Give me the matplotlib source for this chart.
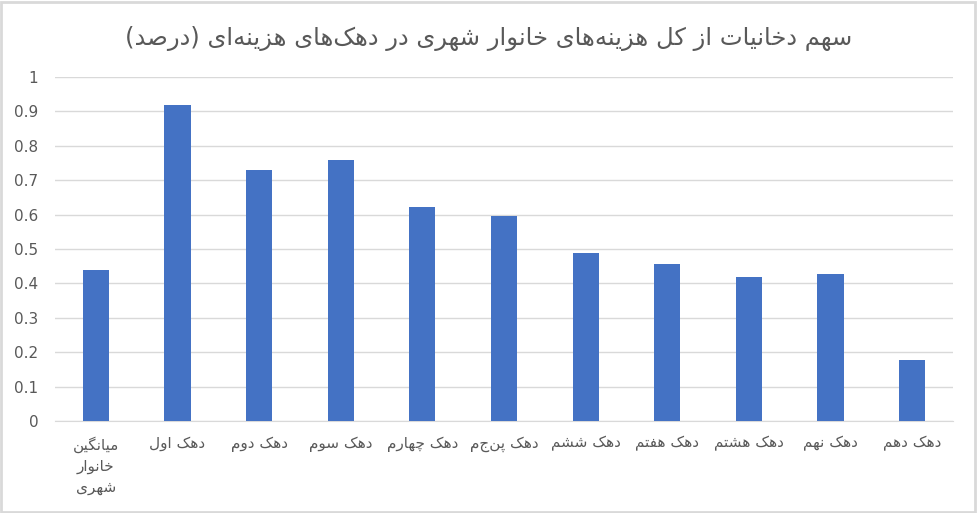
import matplotlib
matplotlib.use("Agg")
import matplotlib.pyplot as plt
import numpy as np

# Persian labels (logical order)
title = "سهم دخانیات از کل هزینه‌های خانوار شهری در دهک‌های هزینه‌ای (درصد)"
categories = [
    "میانگین\nخانوار\nشهری",
    "دهک اول",
    "دهک دوم",
    "دهک سوم",
    "دهک چهارم",
    "دهک پنجم",
    "دهک ششم",
    "دهک هفتم",
    "دهک هشتم",
    "دهک نهم",
    "دهک دهم",
]
values = [0.44, 0.92, 0.73, 0.76, 0.622, 0.595, 0.487, 0.455, 0.418, 0.427, 0.178]
yticks = [0, 0.1, 0.2, 0.3, 0.4, 0.5, 0.6, 0.7, 0.8, 0.9, 1]
ytick_labels = ["0", "0.1", "0.2", "0.3", "0.4", "0.5", "0.6", "0.7", "0.8", "0.9", "1"]

# presentation forms: isolated, final, initial, medial (None -> right-joining only)
FORMS = {
    "ا": ("\uFE8D", "\uFE8E", None, None),
    "د": ("\uFEA9", "\uFEAA", None, None),
    "ر": ("\uFEAD", "\uFEAE", None, None),
    "ز": ("\uFEAF", "\uFEB0", None, None),
    "و": ("\uFEED", "\uFEEE", None, None),
    "ت": ("\uFE95", "\uFE96", "\uFE97", "\uFE98"),
    "خ": ("\uFEA5", "\uFEA6", "\uFEA7", "\uFEA8"),
    "س": ("\uFEB1", "\uFEB2", "\uFEB3", "\uFEB4"),
    "ش": ("\uFEB5", "\uFEB6", "\uFEB7", "\uFEB8"),
    "ص": ("\uFEB9", "\uFEBA", "\uFEBB", "\uFEBC"),
    "ف": ("\uFED1", "\uFED2", "\uFED3", "\uFED4"),
    "ل": ("\uFEDD", "\uFEDE", "\uFEDF", "\uFEE0"),
    "م": ("\uFEE1", "\uFEE2", "\uFEE3", "\uFEE4"),
    "ن": ("\uFEE5", "\uFEE6", "\uFEE7", "\uFEE8"),
    "ه": ("\uFEE9", "\uFEEA", "\uFEEB", "\uFEEC"),
    "ی": ("\uFBFC", "\uFBFD", "\uFBFE", "\uFBFF"),
    "ک": ("\uFB8E", "\uFB8F", "\uFB90", "\uFB91"),
    "گ": ("\uFB92", "\uFB93", "\uFB94", "\uFB95"),
    "چ": ("\uFB7A", "\uFB7B", "\uFB7C", "\uFB7D"),
    "پ": ("\uFB56", "\uFB57", "\uFB58", "\uFB59"),
}


def shape_line(s):
    out = []
    for i, ch in enumerate(s):
        if ch not in FORMS:
            if ch != "\u200c":
                out.append(ch)
            continue
        prev = s[i - 1] if i > 0 else ""
        nxt = s[i + 1] if i + 1 < len(s) else ""
        join_prev = prev in FORMS and FORMS[prev][2] is not None
        join_next = FORMS[ch][2] is not None and nxt in FORMS
        iso, fin, ini, med = FORMS[ch]
        if join_prev and join_next:
            out.append(med)
        elif join_prev:
            out.append(fin)
        elif join_next:
            out.append(ini)
        else:
            out.append(iso)
    vis = "".join(reversed(out))
    return vis.translate(str.maketrans("()", ")("))


def fa(s):
    return "\n".join(shape_line(line) for line in s.split("\n"))


plt.rcParams["font.family"] = ["DejaVu Sans"]

fig = plt.figure(figsize=(9.77, 5.13), dpi=100)
ax = fig.add_axes([55 / 977, 1 - 421 / 513, 898 / 977, 344 / 513])

x = np.arange(len(categories))
ax.bar(x, values, width=0.32, color="#4472C4", zorder=3)

ax.set_xlim(-0.5, len(categories) - 0.5)
ax.set_ylim(0, 1)
ax.set_yticks(yticks)
ax.set_yticklabels(ytick_labels, fontsize=11, color="#595959")
ax.set_xticks(x)
ax.set_xticklabels([fa(c) for c in categories], fontsize=11, color="#595959",
                   linespacing=1.5)
ax.tick_params(axis="both", length=0)
ax.tick_params(axis="x", pad=11)
ax.tick_params(axis="y", pad=12)
ax.grid(axis="y", color="#D9D9D9", linewidth=1, zorder=0)
for side in ["top", "right", "left"]:
    ax.spines[side].set_visible(False)
ax.spines["bottom"].set_color("#D9D9D9")

fig.text(0.5, 1 - 39 / 513, fa(title), ha="center", va="center",
         fontsize=17.5, color="#595959")

fig.add_artist(plt.Rectangle((0.001, 0.002), 0.997, 0.995, transform=fig.transFigure,
                             fill=False, edgecolor="#D9D9D9", linewidth=2))

fig.savefig("out.png", dpi=100)
